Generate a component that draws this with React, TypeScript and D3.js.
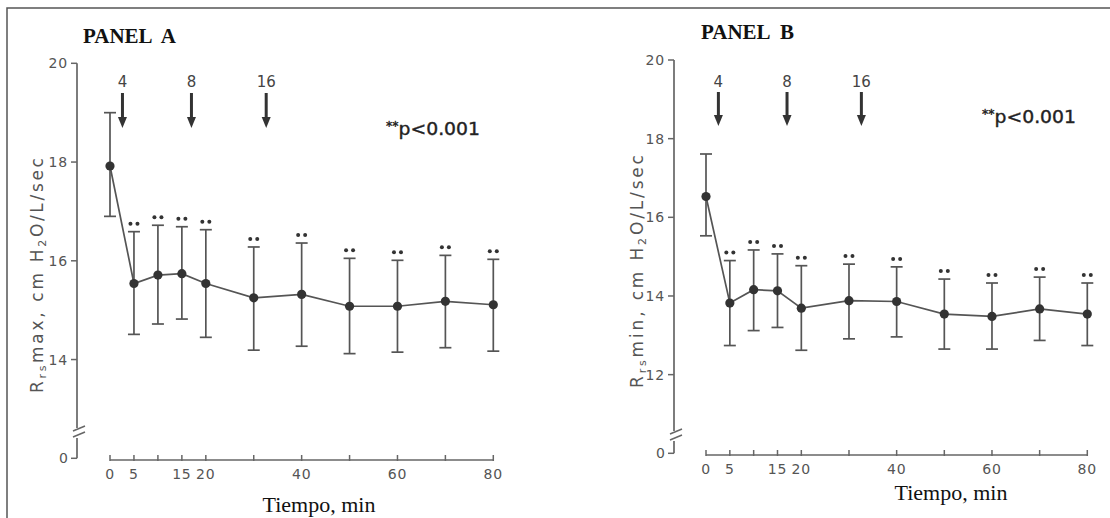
import React from 'react';
import * as d3 from 'd3';

// time points (min)
const minutes = [0, 5, 10, 15, 20, 30, 40, 50, 60, 70, 80];

// panel A: Rrs max (mean, upper and lower ends of the error bars)
const maxMean = [17.92, 15.54, 15.71, 15.74, 15.54, 15.25, 15.32, 15.08, 15.08, 15.18, 15.11];
const maxUpper = [19.0, 16.59, 16.72, 16.69, 16.63, 16.28, 16.36, 16.05, 16.01, 16.11, 16.03];
const maxLower = [16.9, 14.51, 14.72, 14.82, 14.45, 14.19, 14.27, 14.12, 14.15, 14.24, 14.17];

// panel B: Rrs min
const minMean = [16.53, 13.82, 14.16, 14.13, 13.69, 13.88, 13.86, 13.54, 13.48, 13.67, 13.54];
const minUpper = [17.61, 14.9, 15.17, 15.07, 14.77, 14.81, 14.74, 14.43, 14.33, 14.48, 14.33];
const minLower = [15.53, 12.74, 13.12, 13.2, 12.62, 12.91, 12.96, 12.65, 12.65, 12.87, 12.74];

// ** p<0.001 vs baseline
const significant = [false, true, true, true, true, true, true, true, true, true, true];

const xTickLabels = [0, 5, 15, 20, 40, 60, 80];
const yTicksA = [14, 16, 18, 20];
const yTicksB = [12, 14, 16, 18, 20];

// arrows with doses
const doseLabels = ['4', '8', '16'];
const doseTimes = [2.6, 17, 32.6];

const sans = '"DejaVu Sans", sans-serif';
const serif = '"Liberation Serif", "Times New Roman", serif';

type Cfg = {
  title: string; titleX: number; titleY: number;
  x0: number; x1: number; axisX: number; yTop: number; yBottom: number; yMin: number;
  xAxisY: number; yTicks: number[]; breakY: number;
  arrowTop: number; arrowTip: number; labelY: number;
  pX: number; pY: number; xlabelX: number; xlabelY: number;
  ylabelX: number; ylabelCY: number; ylabelLen: number; yName: string;
  mean: number[]; upper: number[]; lower: number[];
};

const panels: Cfg[] = [
  {
    title: 'PANEL  A', titleX: 83, titleY: 43,
    x0: 110, x1: 493.3, axisX: 77, yTop: 63.3, yBottom: 458.3, yMin: 12,
    xAxisY: 460, yTicks: yTicksA, breakY: 428,
    arrowTop: 93, arrowTip: 128, labelY: 87,
    pX: 386, pY: 135, xlabelX: 319, xlabelY: 512,
    ylabelX: 43, ylabelCY: 275.5, ylabelLen: 235, yName: 'max',
    mean: maxMean, upper: maxUpper, lower: maxLower,
  },
  {
    title: 'PANEL  B', titleX: 701, titleY: 39,
    x0: 706, x1: 1087.3, axisX: 674, yTop: 60, yBottom: 453.3, yMin: 10,
    xAxisY: 455, yTicks: yTicksB, breakY: 431,
    arrowTop: 92, arrowTip: 126, labelY: 87,
    pX: 982, pY: 123, xlabelX: 951, xlabelY: 500,
    ylabelX: 643, ylabelCY: 271.5, ylabelLen: 233, yName: 'min',
    mean: minMean, upper: minUpper, lower: minLower,
  },
];

const Panel = ({ c }: { c: Cfg }) => {
  const x = d3.scaleLinear().domain([0, 80]).range([c.x0, c.x1]);
  const y = d3.scaleLinear().domain([c.yMin, 20]).range([c.yBottom, c.yTop]);
  const pts = minutes.map((m, i) => [x(m), y(c.mean[i])] as [number, number]);
  const line = d3.line();
  const ax = c.axisX;

  return (
    <g>
      <text x={c.titleX} y={c.titleY} fontFamily={serif} fontWeight="bold" fontSize={21}
        style={{ whiteSpace: 'pre' }} fill="#111">{c.title}</text>

      {/* y axis with break */}
      <line x1={ax} x2={ax} y1={y(20)} y2={c.breakY} stroke="#666" strokeWidth={1.7} />
      <line x1={ax - 4} x2={ax + 8} y1={c.breakY + 3} y2={c.breakY - 2} stroke="#666" strokeWidth={1.5} />
      <line x1={ax - 4} x2={ax + 8} y1={c.breakY + 9} y2={c.breakY + 4} stroke="#666" strokeWidth={1.5} />
      <line x1={ax} x2={ax} y1={c.breakY + 10} y2={c.yBottom} stroke="#666" strokeWidth={1.7} />
      <line x1={ax - 6} x2={ax} y1={c.yBottom} y2={c.yBottom} stroke="#666" strokeWidth={1.5} />
      <text x={ax - 9} y={c.yBottom + 5} textAnchor="end" fontFamily={sans} fontSize={14} fill="#555">0</text>
      {c.yTicks.map(t => (
        <g key={t}>
          <line x1={ax - 6} x2={ax} y1={y(t)} y2={y(t)} stroke="#666" strokeWidth={1.5} />
          <text x={ax - 9} y={y(t) + 5} textAnchor="end" fontFamily={sans} fontSize={14}
            letterSpacing={0.8} fill="#555">{t}</text>
        </g>
      ))}

      <text transform={`translate(${c.ylabelX},${c.ylabelCY}) rotate(-90)`} textAnchor="middle"
        fontFamily={sans} fontSize={17} fill="#555" textLength={c.ylabelLen} lengthAdjust="spacing">
        R<tspan fontSize={11} dy={3}>rs</tspan><tspan dy={-3}>{c.yName}, cm H</tspan>
        <tspan fontSize={11} dy={3}>2</tspan><tspan dy={-3}>O/L/sec</tspan>
      </text>

      {/* x axis */}
      <line x1={x(0)} x2={x(80)} y1={c.xAxisY} y2={c.xAxisY} stroke="#666" strokeWidth={1.7} />
      {minutes.map(m => (
        <line key={m} x1={x(m)} x2={x(m)} y1={c.xAxisY - 5} y2={c.xAxisY + 1} stroke="#666" strokeWidth={1.5} />
      ))}
      {xTickLabels.map(m => (
        <text key={m} x={x(m)} y={c.xAxisY + 19} textAnchor="middle" fontFamily={sans} fontSize={14}
          letterSpacing={0.8} fill="#555">{m}</text>
      ))}
      <text x={c.xlabelX} y={c.xlabelY} textAnchor="middle" fontFamily={serif} fontSize={22} fill="#111">
        Tiempo, min
      </text>

      {/* error bars */}
      {minutes.map((m, i) => (
        <g key={m} stroke="#555" strokeWidth={1.7}>
          <line x1={x(m)} x2={x(m)} y1={y(c.upper[i])} y2={y(c.lower[i])} />
          <line x1={x(m) - 6} x2={x(m) + 6} y1={y(c.upper[i])} y2={y(c.upper[i])} />
          <line x1={x(m) - 6} x2={x(m) + 6} y1={y(c.lower[i])} y2={y(c.lower[i])} />
        </g>
      ))}
      {minutes.map((m, i) => significant[i] ? (
        <g key={m} fill="#333">
          <circle cx={x(m) - 3.5} cy={y(c.upper[i]) - 8} r={2} />
          <circle cx={x(m) + 3.5} cy={y(c.upper[i]) - 8} r={2} />
        </g>
      ) : null)}

      <path d={line(pts) || ''} fill="none" stroke="#555" strokeWidth={1.7} />
      {pts.map((p, i) => <circle key={i} cx={p[0]} cy={p[1]} r={4.6} fill="#333" />)}

      {/* dose arrows */}
      {doseTimes.map((t, i) => (
        <g key={t}>
          <text x={x(t)} y={c.labelY} textAnchor="middle" fontFamily={sans} fontSize={15} fill="#444">
            {doseLabels[i]}
          </text>
          <line x1={x(t)} x2={x(t)} y1={c.arrowTop} y2={c.arrowTip - 9} stroke="#333" strokeWidth={3} />
          <path d={`M${x(t) - 4.5},${c.arrowTip - 11} L${x(t) + 4.5},${c.arrowTip - 11} L${x(t)},${c.arrowTip} Z`} fill="#333" />
        </g>
      ))}

      <text x={c.pX} y={c.pY} fontFamily={sans} fontSize={18} fill="#222"
        textLength={94} lengthAdjust="spacingAndGlyphs" stroke="#222" strokeWidth={0.4}>
        <tspan fontSize={12} dy={-5}>**</tspan><tspan dy={5}>p&lt;0.001</tspan>
      </text>
    </g>
  );
};

export default function App() {
  return (
    <svg width={1110} height={518} style={{ position: 'absolute', left: 0, top: 0, background: '#fff' }}>
      <rect x={0} y={0} width={1110} height={518} fill="#fff" />
      <path d="M7,518 V8 H1110" fill="none" stroke="#555" strokeWidth={1.5} />
      {panels.map(c => <Panel key={c.title} c={c} />)}
    </svg>
  );
}
